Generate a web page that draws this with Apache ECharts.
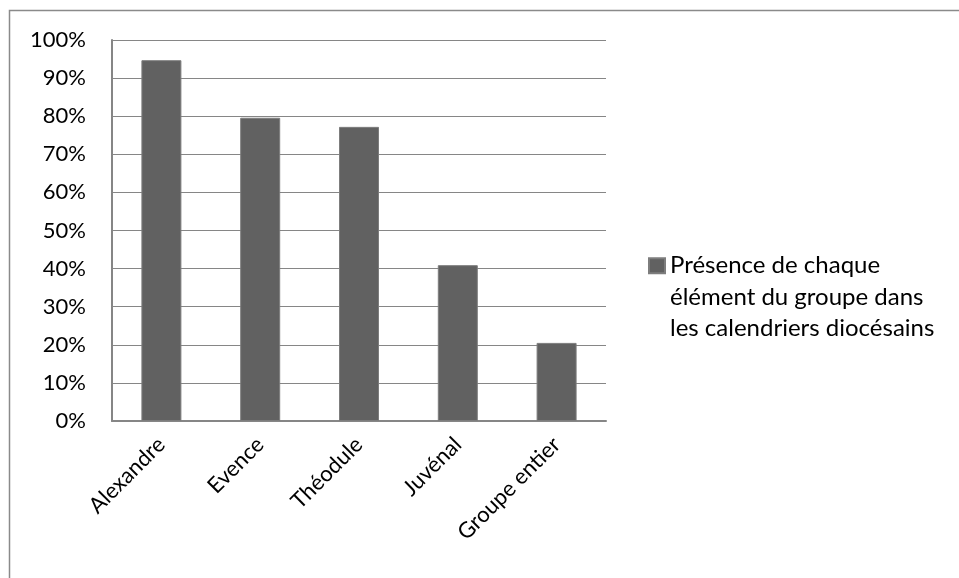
<!DOCTYPE html>
<html>
<head>
<meta charset="utf-8">
<script src="https://cdn.jsdelivr.net/npm/echarts@6/dist/echarts.min.js"></script>
<style>html,body{margin:0;padding:0;background:#fff;}#c{width:959px;height:578px;}</style>
</head>
<body>
<div id="c"></div>
<script>
var categories = ['Alexandre', 'Evence', 'Théodule', 'Juvénal', 'Groupe entier'];
var values = [0.947, 0.796, 0.772, 0.409, 0.205];
var yTicks = [0, 0.1, 0.2, 0.3, 0.4, 0.5, 0.6, 0.7, 0.8, 0.9, 1.0];
var seriesName = 'Présence de chaque élément du groupe dans les calendriers diocésains';
var legendLines = ['Présence de chaque', 'élément du groupe dans', 'les calendriers diocésains'];

var FONT = 'Lato, "Open Sans", sans-serif';
var chart = echarts.init(document.getElementById('c'), null, {renderer: 'canvas'});
chart.setOption({
  animation: false,
  backgroundColor: '#ffffff',
  graphic: [{
    type: 'rect', silent: true,
    shape: {x: 9.5, y: 10.5, width: 1000, height: 700},
    style: {fill: 'none', stroke: '#8a8a8a', lineWidth: 1.5}
  }],
  grid: {left: 112, right: 353, top: 40, bottom: 157, containLabel: false},
  legend: {
    left: 648, top: 187,
    padding: 0,
    orient: 'vertical',
    itemWidth: 16, itemHeight: 15, itemGap: 4,
    icon: 'rect',
    data: [seriesName],
    formatter: function () { return '\n\n' + legendLines.join('\n'); },
    textStyle: {fontFamily: FONT, fontSize: 24, color: '#000', lineHeight: 31.5, padding: [0,0,0,0]}
  },
  xAxis: {
    type: 'category',
    data: categories,
    axisLine: {lineStyle: {color: '#868686', width: 2}},
    axisTick: {show: false},
    axisLabel: {rotate: 45, fontFamily: FONT, fontSize: 22, color: '#000', margin: 20, interval: 0}
  },
  yAxis: {
    type: 'value',
    min: 0, max: 1, interval: 0.1,
    axisLine: {show: true, lineStyle: {color: '#868686', width: 2}},
    axisTick: {show: false},
    splitLine: {lineStyle: {color: '#868686', width: 1}},
    axisLabel: {
      fontFamily: FONT, fontSize: 22, color: '#000', margin: 26,
      formatter: function (v) { return Math.round(v * 100) + '%'; },
      customValues: yTicks
    }
  },
  series: [{
    name: seriesName,
    type: 'bar',
    data: values,
    barWidth: 40,
    itemStyle: {color: '#616161', borderColor: '#7d7d7d', borderWidth: 1}
  }]
});
</script>
</body>
</html>
